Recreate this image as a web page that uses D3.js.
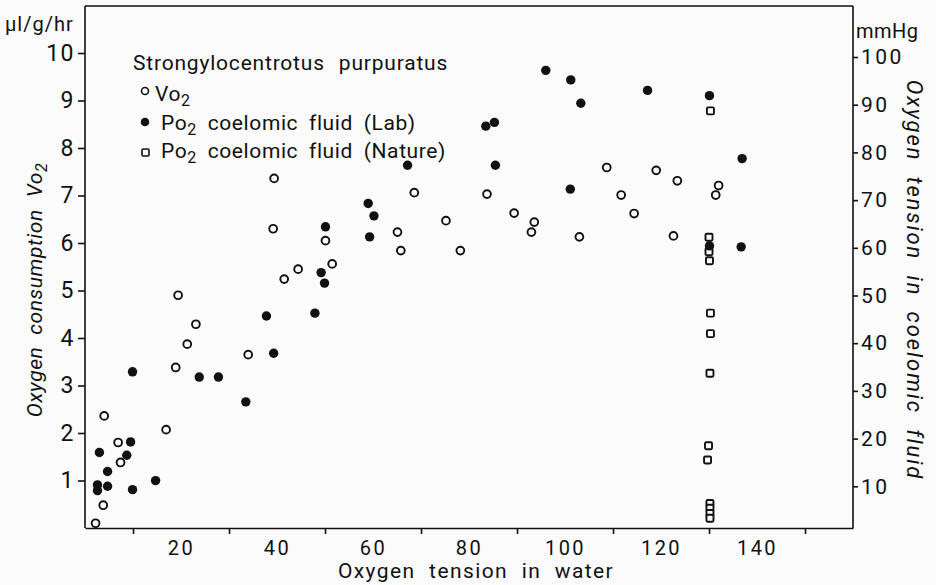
<!DOCTYPE html>
<html>
<head>
<meta charset="utf-8">
<script src="https://cdn.jsdelivr.net/npm/d3@7/dist/d3.min.js"></script>
<style>
  body { margin: 0; background: #fbfbfb; }
  svg { display: block; font-family: "Roboto", "Liberation Sans", sans-serif; font-weight: 400; }
  .axis path, .axis line { stroke: #111; stroke-width: 1.6; }
  .axis text { fill: #111; font-family: "Roboto", sans-serif; font-weight: 400; letter-spacing: 1.5px; }
  .lbl { fill: #111; }
</style>
</head>
<body>
<svg id="chart"></svg>
<script>
// Vo2 (open circles): oxygen tension in water, ul/g/hr
var vo2X = [2.2, 3.8, 4.0, 6.9, 7.4, 16.9, 18.9, 19.4, 21.3, 23.1, 34.0, 39.4, 39.2, 41.5, 44.4,
            50.1, 51.5, 65.1, 65.8, 68.6, 75.2, 78.2, 83.75, 89.4, 93.6, 93.0, 103.0, 108.7, 111.7,
            114.4, 119.0, 122.6, 123.4, 131.4, 132.0];
var vo2Y = [0.1, 0.48, 2.36, 1.80, 1.38, 2.07, 3.38, 4.9, 3.87, 4.29, 3.65, 7.36, 6.3, 5.24, 5.45,
            6.05, 5.56, 6.23, 5.84, 7.06, 6.47, 5.84, 7.03, 6.63, 6.44, 6.23, 6.13, 7.59, 7.01,
            6.62, 7.53, 6.15, 7.31, 7.01, 7.21];

// Po2 coelomic fluid, lab (filled dots): mmHg
var labX = [2.6, 2.6, 3.0, 4.7, 4.7, 8.7, 9.5, 9.9, 9.9, 14.7, 23.8, 27.8, 33.5, 37.8, 39.3,
            47.9, 49.2, 49.9, 50.1, 59.0, 60.2, 59.3, 67.2, 83.5, 85.3, 85.5, 96.0, 101.2, 103.3,
            101.1, 117.2, 130.1, 136.9, 136.7, 130.1];
var labY = [10.3, 9.1, 17.1, 13.1, 10.0, 16.5, 19.3, 34.0, 9.3, 11.2, 32.9, 32.9, 27.7, 45.7, 37.9,
            46.3, 54.8, 52.6, 64.4, 69.3, 66.7, 62.3, 77.3, 85.5, 86.3, 77.3, 97.2, 95.2, 90.3,
            72.3, 93.0, 91.9, 78.7, 60.2, 60.4];

// Po2 coelomic fluid, nature (open squares): mmHg
var natX = [130.3, 130.0, 130.0, 130.1, 130.3, 130.3, 130.2, 129.9, 129.7, 130.2, 130.2, 130.2, 130.2];
var natY = [88.7, 62.2, 59.2, 57.3, 46.3, 42.0, 33.7, 18.5, 15.5, 6.4, 5.4, 4.3, 3.3];

var xLabelTicks = [20, 40, 60, 80, 100, 120, 140];
var xMarkTicks = [10, 30, 50, 70, 90, 110, 130, 150];
var leftTicks = [1, 2, 3, 4, 5, 6, 7, 8, 9, 10];
var rightTicks = [10, 20, 30, 40, 50, 60, 70, 80, 90, 100];

var w = 936, h = 585;
var pad = { top: 6, bottom: 57, left: 85, right: 83 };

var svg = d3.select("#chart")
  .attr("width", w)
  .attr("height", h);

var xScale = d3.scaleLinear().domain([0, 160]).range([pad.left, w - pad.right]);
var yLeft = d3.scaleLinear().domain([0, 11]).range([h - pad.bottom, pad.top - 0.5]);
// right axis in the figure sits a few pixels lower than the left one
var yRight = d3.scaleLinear().domain([0, 100]).range([h - pad.bottom + 6, 57]);

// frame top
svg.append("line")
  .attr("x1", pad.left).attr("x2", w - pad.right)
  .attr("y1", pad.top).attr("y2", pad.top)
  .attr("stroke", "#111").attr("stroke-width", 1.6);

// x axis: marks on odd tens, labels on even tens
svg.append("g")
  .attr("class", "axis")
  .attr("transform", "translate(0," + (h - pad.bottom) + ")")
  .call(d3.axisBottom(xScale).tickValues(xMarkTicks).tickSize(6).tickSizeOuter(0).tickFormat(""));

var xLab = svg.append("g")
  .attr("class", "axis")
  .attr("transform", "translate(0," + (h - pad.bottom) + ")")
  .call(d3.axisBottom(xScale).tickValues(xLabelTicks).tickSize(0).tickPadding(13));
xLab.select(".domain").remove();
xLab.selectAll("text").attr("font-size", 20).attr("dy", "0.71em").style("letter-spacing", "2.5px");

var yL = svg.append("g")
  .attr("class", "axis")
  .attr("transform", "translate(" + pad.left + ",0)")
  .call(d3.axisLeft(yLeft).tickValues(leftTicks).tickSize(7).tickSizeOuter(0).tickPadding(3));
yL.selectAll("text").attr("font-size", 23);
yL.select(".domain").attr("d", "M0," + (h - pad.bottom) + "V" + pad.top);

var yR = svg.append("g")
  .attr("class", "axis")
  .attr("transform", "translate(" + (w - pad.right) + ",0)")
  .call(d3.axisRight(yRight).tickValues(rightTicks).tickSize(5).tickSizeOuter(0).tickPadding(3));
yR.selectAll("text").attr("font-size", 21).style("letter-spacing", "2.5px");
yR.select(".domain").attr("d", "M0," + (h - pad.bottom) + "V" + pad.top);

// points
var vo2 = vo2X.map(function(x, i) { return [x, vo2Y[i]]; });
var lab = labX.map(function(x, i) { return [x, labY[i]]; });
var nat = natX.map(function(x, i) { return [x, natY[i]]; });

svg.selectAll("circle.vo2")
  .data(vo2)
  .enter()
  .append("circle")
  .attr("class", "vo2")
  .attr("cx", function(d) { return xScale(d[0]); })
  .attr("cy", function(d) { return yLeft(d[1]); })
  .attr("r", 3.9)
  .attr("fill", "none")
  .attr("stroke", "#111")
  .attr("stroke-width", 1.9);

svg.selectAll("rect.nat")
  .data(nat)
  .enter()
  .append("rect")
  .attr("class", "nat")
  .attr("x", function(d) { return xScale(d[0]) - 3.5; })
  .attr("y", function(d) { return yRight(d[1]) - 3.5; })
  .attr("width", 7)
  .attr("height", 7)
  .attr("rx", 1.2)
  .attr("fill", "#fbfbfb")
  .attr("stroke", "#111")
  .attr("stroke-width", 1.9);

svg.selectAll("circle.lab")
  .data(lab)
  .enter()
  .append("circle")
  .attr("class", "lab")
  .attr("cx", function(d) { return xScale(d[0]); })
  .attr("cy", function(d) { return yRight(d[1]); })
  .attr("r", 4.7)
  .attr("fill", "#111");

// legend
svg.append("text").attr("class", "lbl")
  .attr("x", 133).attr("y", 70)
  .attr("font-size", 21).attr("word-spacing", 8).attr("letter-spacing", 0.8)
  .text("Strongylocentrotus purpuratus");

svg.append("circle").attr("cx", 145).attr("cy", 91).attr("r", 3.5)
  .attr("fill", "none").attr("stroke", "#111").attr("stroke-width", 1.6);
svg.append("circle").attr("cx", 145).attr("cy", 122).attr("r", 4.3).attr("fill", "#111");
svg.append("rect").attr("x", 142).attr("y", 149).attr("width", 7).attr("height", 7).attr("rx", 1.2)
  .attr("fill", "none").attr("stroke", "#111").attr("stroke-width", 1.6);

function subText(x, y, main, sub, rest) {
  var t = svg.append("text").attr("class", "lbl")
    .attr("x", x).attr("y", y).attr("font-size", 21)
    .attr("word-spacing", 5).attr("letter-spacing", 0.6);
  t.append("tspan").text(main);
  t.append("tspan").attr("dy", 5).attr("font-size", 16).text(sub);
  if (rest) t.append("tspan").attr("dy", -5).text(rest);
  return t;
}
subText(155, 101, "Vo", "2", "");
subText(161, 130, "Po", "2", " coelomic fluid (Lab)");
subText(161, 158, "Po", "2", " coelomic fluid (Nature)");

// units
svg.append("text").attr("class", "lbl")
  .attr("x", 5).attr("y", 31).attr("font-size", 20).attr("letter-spacing", 1)
  .text("\u00b5l/g/hr");
svg.append("text").attr("class", "lbl")
  .attr("x", 856).attr("y", 38).attr("font-size", 20).attr("letter-spacing", 0.5)
  .text("mmHg");

// axis titles
svg.append("text").attr("class", "lbl")
  .attr("x", 476).attr("y", 578)
  .attr("text-anchor", "middle").attr("font-size", 21)
  .attr("word-spacing", 7).attr("letter-spacing", 1.4)
  .text("Oxygen tension in water");

var lt = svg.append("text").attr("class", "lbl")
  .attr("transform", "translate(42,290) rotate(-90)")
  .attr("text-anchor", "middle").attr("font-size", 21).attr("font-style", "italic")
  .attr("word-spacing", 6).attr("letter-spacing", 0.6);
lt.append("tspan").text("Oxygen consumption Vo");
lt.append("tspan").attr("dy", 5).attr("font-size", 16).text("2");

svg.append("text").attr("class", "lbl")
  .attr("transform", "translate(907,280) rotate(90)")
  .attr("text-anchor", "middle").attr("font-size", 22).attr("font-style", "italic")
  .attr("word-spacing", 8).attr("letter-spacing", 1.9)
  .text("Oxygen tension in coelomic fluid");
</script>
</body>
</html>
